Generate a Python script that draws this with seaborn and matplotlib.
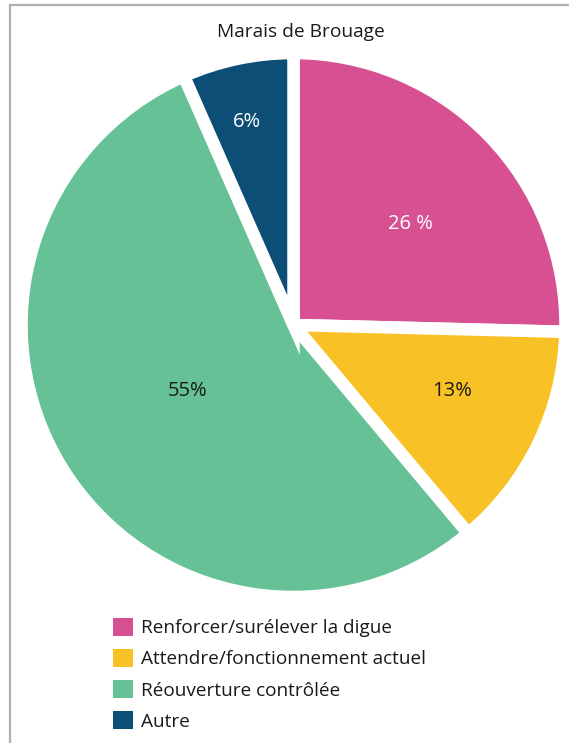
import matplotlib
matplotlib.use("Agg")
import matplotlib.pyplot as plt
import seaborn as sns
import numpy as np
from matplotlib.patches import Patch
from matplotlib.lines import Line2D

categories = ["Renforcer/surélever la digue", "Attendre/fonctionnement actuel",
              "Réouverture contrôlée", "Autre"]
values = [25.4, 13.5, 54.5, 6.6]
pct_labels = ["26 %", "13%", "55%", "6%"]
title = "Marais de Brouage"

colors = ["#D75092", "#F8C126", "#66C296", "#0C4E76"]
label_colors = ["white", "#1a1a1a", "#1a1a1a", "white"]
label_dist = [0.57, 0.63, 0.46, 0.765]
label_dang = [-3.5, 3.1, 0.0, 1.0]

sns.set_theme(style="white")
plt.rcParams['font.family'] = ['Open Sans', 'DejaVu Sans']

W, H = 569, 743
fig = plt.figure(figsize=(W / 100, H / 100), dpi=100)
ax = fig.add_axes([0, 0, 1, 1])

cx, cy = 293.5, H - 325
R = 272
palette = sns.color_palette(colors)
wedges, _ = ax.pie(values, colors=palette, startangle=90, counterclock=False,
                   center=(cx, cy), radius=R, frame=True,
                   wedgeprops=dict(edgecolor="white", linewidth=9))
ax.set_xlim(0, W)
ax.set_ylim(0, H)
ax.set_aspect('equal')
ax.axis('off')

for w, lab, col, d, da in zip(wedges, pct_labels, label_colors, label_dist, label_dang):
    ang = np.deg2rad((w.theta1 + w.theta2) / 2 + da)
    ax.text(cx + d * R * np.cos(ang), cy + d * R * np.sin(ang), lab,
            ha='center', va='center', color=col, fontsize=14.5)

fig.text(301 / W, 1 - 32 / H, title, ha='center', va='center',
         fontsize=13.8, color="#1a1a1a")

# frame lines (top and left)
fig.add_artist(Line2D([10 / W, 1.0], [1 - 5 / H, 1 - 5 / H],
                      transform=fig.transFigure, color="#b0b0b0", lw=1.6))
fig.add_artist(Line2D([10 / W, 10 / W], [1 - 5 / H, 0],
                      transform=fig.transFigure, color="#b0b0b0", lw=1.6))

handles = [Patch(facecolor=c, edgecolor='none') for c in palette]
fig.legend(handles, categories, loc='upper left',
           bbox_to_anchor=(105 / W, 1 - 610 / H), frameon=False,
           fontsize=13.7, handlelength=1.07, handleheight=1.07,
           handletextpad=0.4, labelspacing=0.62, borderaxespad=0,
           labelcolor="#1a1a1a")

fig.savefig("out.png", dpi=100)
